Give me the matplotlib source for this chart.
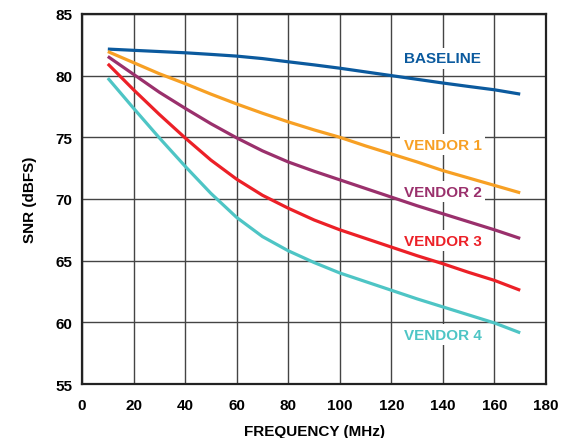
import matplotlib
matplotlib.use("Agg")
import matplotlib.pyplot as plt

freq = [10, 20, 30, 40, 50, 60, 70, 80, 90, 100, 110, 120, 130, 140, 150, 160, 170]
baseline = [82.15, 82.05, 81.95, 81.85, 81.72, 81.58, 81.38, 81.12, 80.87, 80.6, 80.3, 80.0, 79.7, 79.4, 79.12, 78.85, 78.5]
vendor1 = [81.95, 81.05, 80.15, 79.35, 78.5, 77.7, 76.95, 76.25, 75.6, 75.0, 74.3, 73.65, 73.0, 72.3, 71.7, 71.1, 70.5]
vendor2 = [81.55, 80.1, 78.65, 77.35, 76.1, 74.95, 73.9, 73.0, 72.25, 71.55, 70.85, 70.15, 69.45, 68.8, 68.15, 67.5, 66.8]
vendor3 = [80.95, 78.85, 76.85, 74.95, 73.15, 71.6, 70.3, 69.25, 68.3, 67.5, 66.8, 66.1, 65.4, 64.75, 64.05, 63.4, 62.6]
vendor4 = [79.8, 77.35, 74.95, 72.65, 70.45, 68.5, 66.95, 65.8, 64.85, 64.0, 63.3, 62.6, 61.9, 61.25, 60.6, 59.95, 59.15]

names = ["BASELINE", "VENDOR 1", "VENDOR 2", "VENDOR 3", "VENDOR 4"]
series = [baseline, vendor1, vendor2, vendor3, vendor4]
colors = ["#0b5a9e", "#f7a024", "#9a306c", "#ec2027", "#4ec5c5"]
label_x = 140
label_y = [81.4, 74.4, 70.6, 66.6, 59.0]

plt.rcParams['font.family'] = ['Liberation Sans', 'DejaVu Sans']
fig = plt.figure(figsize=(5.62, 4.39), dpi=100)
ax = fig.add_axes([0.146, 0.123, 0.8255, 0.843])

for s, c in zip(series, colors):
    ax.plot(freq, s, color=c, lw=2.3, solid_capstyle='butt', solid_joinstyle='round', zorder=3)

for n, c, y in zip(names, colors, label_y):
    ax.text(label_x, y, n, color=c, fontsize=11, fontweight='bold', ha='center', va='center',
            zorder=2, bbox=dict(facecolor='white', edgecolor='none', pad=2.5))

ax.set_xlim(0, 180)
ax.set_ylim(55, 85)
ax.set_xticks(range(0, 181, 20))
ax.set_yticks(range(55, 86, 5))
ax.grid(True, color='#444444', lw=1.0, zorder=1)
ax.set_axisbelow(True)
ax.tick_params(length=0, labelsize=11)
ax.tick_params(axis='x', pad=10)
ax.tick_params(axis='y', pad=7)
for lab in ax.get_xticklabels() + ax.get_yticklabels():
    lab.set_fontweight('bold')
for sp in ax.spines.values():
    sp.set_linewidth(1.6)
    sp.set_color('#222222')
ax.set_xlabel("FREQUENCY (MHz)", fontsize=11, fontweight='bold', labelpad=9)
ax.set_ylabel("SNR (dBFS)", fontsize=11, fontweight='bold', labelpad=13)

fig.savefig("out.png", dpi=100)
